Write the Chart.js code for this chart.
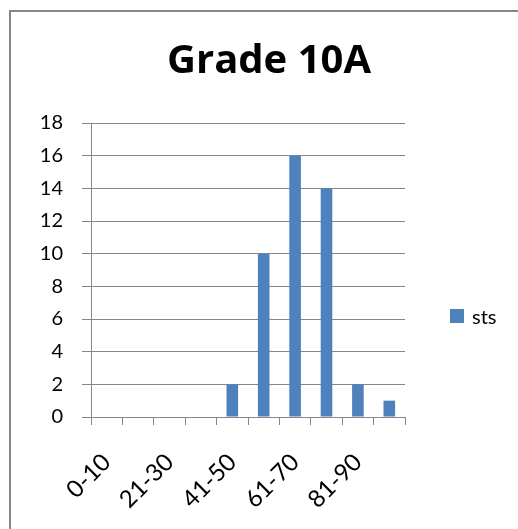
<!DOCTYPE html>
<html>
<head>
<meta charset="utf-8">
<script src="https://cdn.jsdelivr.net/npm/chart.js@4.4.1/dist/chart.umd.min.js"></script>
<style>
    html, body { margin: 0; padding: 0; background: #fff; }
    #frame { position: absolute; left: 9px; top: 10px; width: 520px; height: 530px; border: 2px solid #878787; box-sizing: border-box; }
    #wrap { position: absolute; left: 0; top: 0; width: 518px; height: 529px; }
    #legend { position: absolute; left: 450px; top: 304px; font-family: Lato, 'Open Sans', sans-serif; font-size: 20px; color: #000; }
    #legend .item { display: flex; align-items: center; height: 24px; }
    #legend .box { width: 14px; height: 14px; margin-right: 8px; }
</style>
</head>
<body>
<div id="frame"></div>
<div id="wrap"><canvas id="gradeChart"></canvas></div>
<div id="legend"></div>
<script>
// ranges de notes
const categories = ["0-10", "11-20", "21-30", "31-40", "41-50", "51-60", "61-70", "71-80", "81-90", "91-100"];
const sts = [0, 0, 0, 0, 2, 10, 16, 14, 2, 1];
const yTicks = [0, 2, 4, 6, 8, 10, 12, 14, 16, 18];

const font = "Lato, 'Open Sans', sans-serif";

const chart = new Chart(document.getElementById("gradeChart"), {
    type: "bar",
    data: {
        labels: categories,
        datasets: [{
            label: "sts",
            data: sts,
            backgroundColor: "#4F81BD",
            categoryPercentage: 1,
            barPercentage: 0.37
        }]
    },
    options: {
        responsive: true,
        maintainAspectRatio: false,
        animation: false,
        layout: { padding: { left: 20, right: 0, top: 0, bottom: 0 } },
        plugins: {
            title: {
                display: true,
                text: "Grade 10A",
                color: "#000",
                font: { family: "'Open Sans', sans-serif", size: 40, weight: "bold" },
                padding: { top: 38, bottom: 37 }
            },
            legend: { display: false },
            tooltip: { enabled: false }
        },
        scales: {
            x: {
                afterFit: (axis) => { axis.height = 112; },
                grid: { drawOnChartArea: false, color: "#878787", tickLength: 8 },
                border: { color: "#878787" },
                ticks: {
                    autoSkip: false,
                    minRotation: 45,
                    maxRotation: 45,
                    padding: 23,
                    color: "#000",
                    font: { family: font, size: 24 },
                    callback: (v, i) => i % 2 === 0 ? categories[i] : ""
                }
            },
            y: {
                min: 0,
                max: 18,
                afterBuildTicks: (axis) => { axis.ticks = yTicks.map(v => ({ value: v })); },
                afterFit: (axis) => { axis.width = 71; },
                grid: { color: "#878787", tickLength: 9 },
                border: { color: "#878787" },
                ticks: {
                    color: "#000",
                    padding: 19,
                    font: { family: font, size: 20 }
                }
            },
            // espace vide a droite pour la legende
            right: {
                position: "right",
                display: true,
                min: 0,
                max: 18,
                afterFit: (axis) => { axis.width = 113; },
                grid: { display: false },
                border: { display: false },
                ticks: { display: false }
            }
        }
    }
});

// legende en HTML
const legendEl = document.getElementById("legend");
chart.data.datasets.forEach(ds => {
    const item = document.createElement("div");
    item.className = "item";
    const box = document.createElement("span");
    box.className = "box";
    box.style.background = ds.backgroundColor;
    const txt = document.createElement("span");
    txt.textContent = ds.label;
    item.appendChild(box);
    item.appendChild(txt);
    legendEl.appendChild(item);
});
</script>
</body>
</html>
